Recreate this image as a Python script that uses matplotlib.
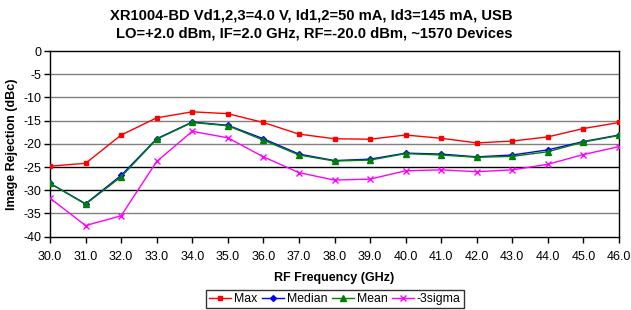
import matplotlib
matplotlib.use("Agg")
import matplotlib.pyplot as plt

plt.rcParams['font.family'] = ['Liberation Sans', 'DejaVu Sans']

freq = [30.0, 31.0, 32.0, 33.0, 34.0, 35.0, 36.0, 37.0, 38.0, 39.0, 40.0, 41.0, 42.0, 43.0, 44.0, 45.0, 46.0]
max_vals = [-24.8, -24.2, -18.1, -14.4, -13.1, -13.5, -15.4, -17.9, -18.9, -19.0, -18.1, -18.8, -19.8, -19.4, -18.5, -16.7, -15.4]
median_vals = [-28.5, -32.9, -26.8, -18.9, -15.3, -16.0, -18.9, -22.2, -23.6, -23.3, -22.0, -22.2, -22.8, -22.4, -21.3, -19.5, -18.1]
mean_vals = [-28.5, -33.0, -27.1, -19.0, -15.4, -16.1, -19.2, -22.4, -23.7, -23.5, -22.1, -22.4, -22.9, -22.7, -21.7, -19.6, -18.2]
sigma_vals = [-31.7, -37.6, -35.5, -23.8, -17.3, -18.7, -22.8, -26.2, -27.8, -27.6, -25.8, -25.6, -26.0, -25.6, -24.4, -22.3, -20.6]
y_ticks = [0, -5, -10, -15, -20, -25, -30, -35, -40]

fig = plt.figure(figsize=(6.31, 3.10), dpi=100)
ax = fig.add_axes([50/631, 1-236.7/310, (619-50)/631, (236.7-51)/310])

for yv in y_ticks[1:-1]:
    col = 'black' if yv in (-25, -30) else '#808080'
    ax.axhline(yv, color=col, lw=1.0, zorder=1)

ax.plot(freq, max_vals, color='#ff0000', marker='s', ms=3.5, lw=1, label='Max', zorder=3)
ax.plot(freq, median_vals, color='#0000ff', marker='D', ms=3, lw=1, label='Median', zorder=3)
ax.plot(freq, mean_vals, color='#008000', marker='^', ms=4, lw=1, label='Mean', zorder=4)
ax.plot(freq, sigma_vals, color='#ff00ff', marker='x', ms=4, mew=1, lw=1, label='-3sigma', zorder=3)

ax.set_xlim(30, 46)
ax.set_ylim(-40, 0)
ax.set_xticks(freq)
ax.set_xticklabels([f"{f:.1f}" for f in freq], fontsize=9)
ax.set_yticks(y_ticks)
ax.set_yticklabels([str(v) for v in y_ticks], fontsize=9)
ax.tick_params(direction='out', length=4, width=1, color='black')
ax.tick_params(axis='x', pad=6.5)
ax.tick_params(axis='y', pad=2)
for s in ax.spines.values():
    s.set_color('black')
    s.set_linewidth(1)

ax.set_xlabel('RF Frequency (GHz)', fontsize=9, fontweight='bold', labelpad=6)
ax.set_ylabel('Image Rejection (dBc)', fontsize=9, fontweight='bold', labelpad=4)

fig.text(311/631, 1-15/310, 'XR1004-BD Vd1,2,3=4.0 V, Id1,2=50 mA, Id3=145 mA, USB',
         ha='center', va='center', fontsize=10.6, fontweight='bold')
fig.text(314/631, 1-34/310, 'LO=+2.0 dBm, IF=2.0 GHz, RF=-20.0 dBm, ~1570 Devices',
         ha='center', va='center', fontsize=10.6, fontweight='bold')

leg = fig.legend(loc='center', bbox_to_anchor=(335/631, 1-299/310), ncol=4, fontsize=8.8,
                 frameon=True, fancybox=False, edgecolor='black', handlelength=1.8,
                 handletextpad=0.25, columnspacing=0.35, borderpad=0.25, borderaxespad=0)
leg.get_frame().set_linewidth(1)

fig.savefig('out.png', dpi=100)
